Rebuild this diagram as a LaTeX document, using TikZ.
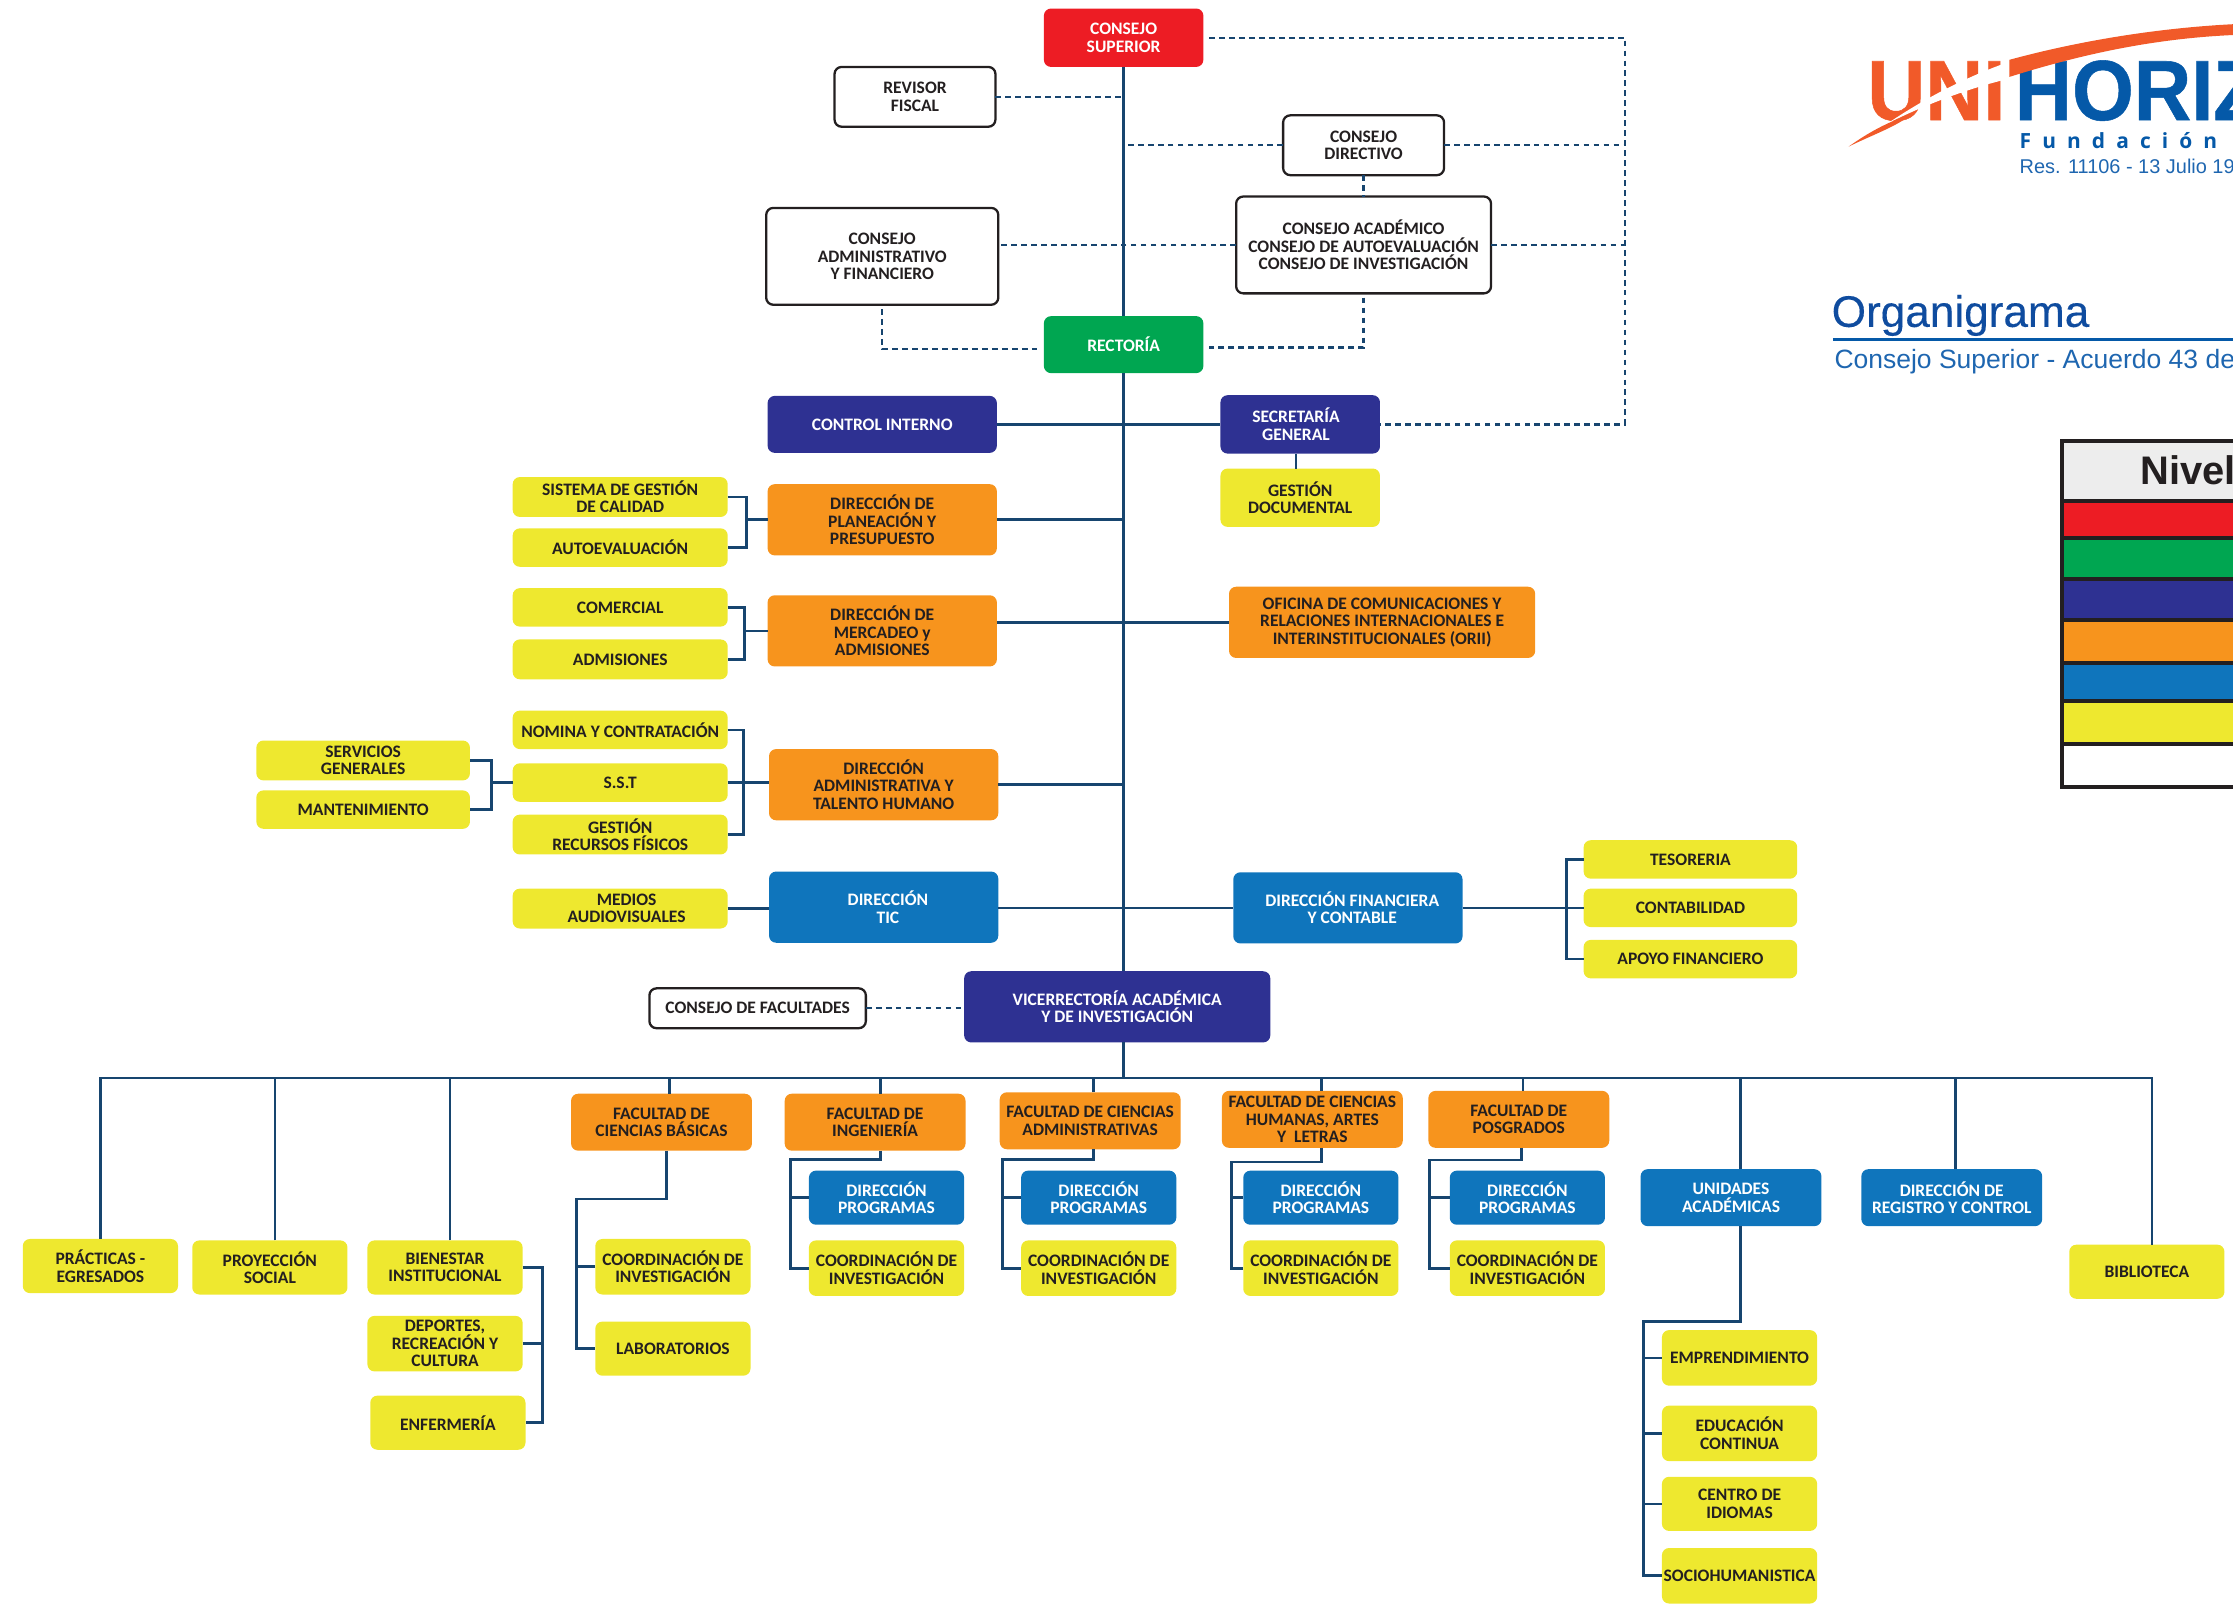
\documentclass[tikz,border=0pt]{standalone}
\usepackage{fontspec}
\setmainfont{Carlito}
\newfontfamily\logofont{Liberation Sans}
\newfontfamily\brandfont{Open Sans}
\usetikzlibrary{positioning}
\definecolor{nivelred}{HTML}{ED1C24}
\definecolor{nivelgreen}{HTML}{00A651}
\definecolor{nivelnavy}{HTML}{2E3192}
\definecolor{nivelorange}{HTML}{F7941D}
\definecolor{nivelblue}{HTML}{0F75BC}
\definecolor{nivelyellow}{HTML}{EEE82F}
\definecolor{nivelink}{HTML}{231F20}
\definecolor{relline}{HTML}{17456F}
\definecolor{logoorange}{HTML}{F15A29}
\definecolor{logoblue}{HTML}{0559A8}
\definecolor{titleblue}{HTML}{0F4C9F}
\definecolor{subblue}{HTML}{1E66B0}
\begin{document}
\begin{tikzpicture}[x=1pt, y=-1pt,
    area/.style 2 args={minimum width=#1pt, minimum height=#2pt},
    box/.style={rounded corners=5pt, inner sep=0pt, outer sep=0pt, align=center, text=nivelink, font=\fontsize{12.3}{12.2}\selectfont\bfseries},
    red-box/.style={box, fill=nivelred, text=white},
    green-box/.style={box, fill=nivelgreen, text=white},
    navy-box/.style={box, fill=nivelnavy, text=white},
    orange-box/.style={box, fill=nivelorange},
    blue-box/.style={box, fill=nivelblue, text=white},
    yellow-box/.style={box, fill=nivelyellow},
    white-box/.style={box, draw=nivelink, line width=1.6pt, fill=white},
    logo-text/.style={anchor=base west, inner sep=0pt},
    rel/.style={draw=relline, line width=1.9pt},
    rel-dash/.style={draw=relline, line width=1.6pt, dash pattern=on 4pt off 3pt},
    nivel-row/.style={draw=nivelink, line width=2.8pt}]
    \useasboundingbox (0,0) rectangle (1568,1131);

    \node[logo-text, logoorange, xscale=0.94, transform shape, font=\logofont\fontsize{60}{60}\selectfont\bfseries\addfontfeatures{FakeBold=0.6}] (logo-uni) at (1311,84.3) {UNI};
    \node[logo-text, logoblue, xscale=0.93, transform shape, font=\logofont\fontsize{60}{60}\selectfont\bfseries\addfontfeatures{FakeBold=0.6}] (logo-horiz) at (1414.5,84.3) {HORIZ};
    \fill[white] (1325,87) .. controls (1350,70) and (1380,54) .. (1412,43) -- (1412,55) .. controls (1385,61) and (1350,74) .. (1325,87) -- cycle;
    \fill[logoorange] (1411,42) .. controls (1455,30) and (1510,20) .. (1568,17) -- (1568,24.6) .. controls (1515,27) and (1465,37) .. (1411,54) -- cycle;
    \fill[logoorange] (1298,103) .. controls (1312,93) and (1325,86) .. (1342,80) .. controls (1334,88) and (1314,95) .. (1298,103) -- cycle;
    \node[logo-text, logoblue, font=\brandfont\fontsize{14.7}{15}\selectfont\bfseries\addfontfeatures{LetterSpace=53}] (logo-fundacion) at (1418,104) {Fundación};
    \node[logo-text, subblue, font=\logofont\fontsize{14}{15}\selectfont] (logo-res) at (1418,122) {Res. 11106 - 13 Julio 19};
    \node[logo-text, titleblue, font=\logofont\fontsize{31}{32}\selectfont\addfontfeatures{FakeBold=0.3}] (title) at (1286,229.5) {Organigrama};
    \draw[logoblue, line width=2pt] (1287,238.5) -- (1568,238.5);
    \node[logo-text, subblue, font=\logofont\fontsize{18.6}{19}\selectfont] (subtitle) at (1288,259) {Consejo Superior - Acuerdo 43 de};

    \draw[nivel-row, fill=black!7] (1448,310) rectangle (1600,352);
    \draw[nivel-row, fill=nivelred] (1448,352) rectangle (1600,378);
    \draw[nivel-row, fill=nivelgreen] (1448,378) rectangle (1600,406.5);
    \draw[nivel-row, fill=nivelnavy] (1448,406.5) rectangle (1600,435.5);
    \draw[nivel-row, fill=nivelorange] (1448,435.5) rectangle (1600,465.5);
    \draw[nivel-row, fill=nivelblue] (1448,465.5) rectangle (1600,492);
    \draw[nivel-row, fill=nivelyellow] (1448,492) rectangle (1600,522.5);
    \draw[nivel-row, fill=white] (1448,522.5) rectangle (1600,552.5);
    \node[logo-text, nivelink, font=\logofont\fontsize{28}{28}\selectfont\bfseries] (nivel-title) at (1503,340.5) {Nivel};

    \node[red-box, area={112}{41}] (consejo-superior) at (789,26.5) {CONSEJO\\SUPERIOR};
    \node[white-box, area={113}{42}] (revisor-fiscal) at (642.5,68) {REVISOR\\FISCAL};
    \node[white-box, area={113}{42}] (consejo-directivo) at (957.5,102) {CONSEJO\\DIRECTIVO};
    \node[white-box, area={179}{68}] (consejo-academico) at (957.5,172) {CONSEJO ACADÉMICO\\CONSEJO DE AUTOEVALUACIÓN\\CONSEJO DE INVESTIGACIÓN};
    \node[white-box, area={163}{68}] (consejo-administrativo) at (619.5,180) {CONSEJO\\ADMINISTRATIVO\\Y FINANCIERO};
    \node[green-box, area={112}{40}] (rectoria) at (789,242) {RECTORÍA};
    \node[navy-box, area={161}{40}] (control-interno) at (619.5,298) {CONTROL INTERNO};
    \node[navy-box, area={112}{41}] (secretaria-general) at (913,298) {\hspace*{-6pt}SECRETARÍA\\\hspace*{-6pt}GENERAL};
    \node[yellow-box, area={112}{41}] (gestion-documental) at (913,349.5) {GESTIÓN\\DOCUMENTAL};

    \node[orange-box, area={161}{50}] (dir-planeacion) at (619.5,365) {DIRECCIÓN DE\\PLANEACIÓN Y\\PRESUPUESTO};
    \node[yellow-box, area={151}{28}] (sistema-gestion) at (435.5,349) {SISTEMA DE GESTIÓN\\DE CALIDAD};
    \node[yellow-box, area={151}{27}] (autoevaluacion) at (435.5,384.5) {AUTOEVALUACIÓN};
    \node[orange-box, area={161}{50}] (dir-mercadeo) at (619.5,443) {DIRECCIÓN DE\\MERCADEO y\\ADMISIONES};
    \node[yellow-box, area={151}{27}] (comercial) at (435.5,426.5) {COMERCIAL};
    \node[yellow-box, area={151}{28}] (admisiones) at (435.5,463) {ADMISIONES};
    \node[orange-box, area={215}{50}] (oficina-comunicaciones) at (970.5,437) {OFICINA DE COMUNICACIONES Y\\RELACIONES INTERNACIONALES E\\INTERINSTITUCIONALES (ORII)};
    \node[orange-box, area={161}{50}] (dir-administrativa) at (620.5,551) {DIRECCIÓN\\ADMINISTRATIVA Y\\TALENTO HUMANO};
    \node[yellow-box, area={151}{27}] (nomina) at (435.5,512.5) {NOMINA Y CONTRATACIÓN};
    \node[yellow-box, area={151}{27}] (sst) at (435.5,549.5) {S.S.T};
    \node[yellow-box, area={151}{28}] (gestion-recursos) at (435.5,586) {GESTIÓN\\RECURSOS FÍSICOS};
    \node[yellow-box, area={150}{28}] (servicios-generales) at (255,534) {SERVICIOS\\GENERALES};
    \node[yellow-box, area={150}{27}] (mantenimiento) at (255,568.5) {MANTENIMIENTO};
    \node[blue-box, area={161}{50}] (dir-tic) at (620.5,637) {\hspace*{6pt}DIRECCIÓN\\\hspace*{6pt}TIC};
    \node[yellow-box, area={151}{28}] (medios) at (435.5,638) {\hspace*{9pt}MEDIOS\\\hspace*{9pt}AUDIOVISUALES};
    \node[blue-box, area={161}{50}] (dir-financiera) at (946.5,637.5) {\hspace*{6pt}DIRECCIÓN FINANCIERA\\\hspace*{6pt}Y CONTABLE};
    \node[yellow-box, area={150}{27}] (tesoreria) at (1187,603.5) {TESORERIA};
    \node[yellow-box, area={150}{27}] (contabilidad) at (1187,637.5) {CONTABILIDAD};
    \node[yellow-box, area={150}{27}] (apoyo) at (1187,673.5) {APOYO FINANCIERO};
    \node[navy-box, area={215}{50}] (vicerrectoria) at (784.5,707) {VICERRECTORÍA ACADÉMICA\\Y DE INVESTIGACIÓN};
    \node[white-box, area={152}{28}] (consejo-facultades) at (532,708) {CONSEJO DE FACULTADES};

    \node[yellow-box, area={109}{38}] (practicas) at (70.5,889) {PRÁCTICAS -\\EGRESADOS};
    \node[yellow-box, area={109}{38}] (proyeccion) at (189.5,890) {PROYECCIÓN\\SOCIAL};
    \node[yellow-box, area={109}{38}] (bienestar) at (312.5,890) {BIENESTAR\\INSTITUCIONAL};
    \node[yellow-box, area={109}{39}] (deportes) at (312.5,943.5) {DEPORTES,\\RECREACIÓN Y\\CULTURA};
    \node[yellow-box, area={109}{38}] (enfermeria) at (314.5,999) {ENFERMERÍA};

    \node[orange-box, area={127}{40}] (fac-basicas) at (464.5,788) {FACULTAD DE\\CIENCIAS BÁSICAS};
    \node[yellow-box, area={109}{39}] (coord-basicas) at (472.5,889.5) {COORDINACIÓN DE\\INVESTIGACIÓN};
    \node[yellow-box, area={109}{38}] (laboratorios) at (472.5,947) {LABORATORIOS};
    \node[orange-box, area={127}{40}] (fac-ingenieria) at (614.5,788) {FACULTAD DE\\INGENIERÍA};
    \node[blue-box, area={109}{38}] (prog-ingenieria) at (622.5,841) {DIRECCIÓN\\PROGRAMAS};
    \node[yellow-box, area={109}{39}] (coord-ingenieria) at (622.5,890.5) {COORDINACIÓN DE\\INVESTIGACIÓN};
    \node[orange-box, area={127}{40}] (fac-administrativas) at (765.5,787) {FACULTAD DE CIENCIAS\\ADMINISTRATIVAS};
    \node[blue-box, area={109}{38}] (prog-administrativas) at (771.5,841) {DIRECCIÓN\\PROGRAMAS};
    \node[yellow-box, area={109}{39}] (coord-administrativas) at (771.5,890.5) {COORDINACIÓN DE\\INVESTIGACIÓN};
    \node[orange-box, area={127}{40}] (fac-humanas) at (921.5,786) {FACULTAD DE CIENCIAS\\HUMANAS, ARTES\\Y\ \ LETRAS};
    \node[blue-box, area={109}{38}] (prog-humanas) at (927.5,841) {DIRECCIÓN\\PROGRAMAS};
    \node[yellow-box, area={109}{39}] (coord-humanas) at (927.5,890.5) {COORDINACIÓN DE\\INVESTIGACIÓN};
    \node[orange-box, area={127}{40}] (fac-posgrados) at (1066.5,786) {FACULTAD DE\\POSGRADOS};
    \node[blue-box, area={109}{38}] (prog-posgrados) at (1072.5,841) {DIRECCIÓN\\PROGRAMAS};
    \node[yellow-box, area={109}{39}] (coord-posgrados) at (1072.5,890.5) {COORDINACIÓN DE\\INVESTIGACIÓN};

    \node[blue-box, area={127}{40}] (unidades) at (1215.5,841) {UNIDADES\\ACADÉMICAS};
    \node[yellow-box, area={109}{39}] (emprendimiento) at (1221.5,953.5) {EMPRENDIMIENTO};
    \node[yellow-box, area={109}{39}] (educacion) at (1221.5,1006.5) {EDUCACIÓN\\CONTINUA};
    \node[yellow-box, area={109}{38}] (idiomas) at (1221.5,1056) {CENTRO DE\\IDIOMAS};
    \node[yellow-box, area={109}{39}] (sociohumanistica) at (1221.5,1106.5) {SOCIOHUMANISTICA};
    \node[blue-box, area={127}{40}] (registro) at (1370.5,841) {DIRECCIÓN DE\\REGISTRO Y CONTROL};
    \node[yellow-box, area={109}{38}] (biblioteca) at (1507.5,893) {BIBLIOTECA};

    \coordinate (dash-top) at (1141,26.5);
    \coordinate (dash-bottom) at (1141,298);
    \coordinate (bus) at (789,757);
    \coordinate (planeacion-brace) at (524,365);
    \coordinate (mercadeo-brace) at (523,443);
    \coordinate (administrativa-brace) at (522,549.5);
    \coordinate (sst-brace) at (345,549.5);
    \coordinate (financiera-brace) at (1100,637.5);
    \coordinate (bienestar-brace) at (381,943.5);
    \coordinate (basicas-elbow) at (405,842);
    \coordinate (ingenieria-elbow) at (555,814);
    \coordinate (administrativas-elbow) at (704,814);
    \coordinate (humanas-elbow) at (864.5,816);
    \coordinate (posgrados-elbow) at (1004,814.5);
    \coordinate (unidades-elbow) at (1154,928);

    \draw[rel] (consejo-superior.south) -- (rectoria.north);
    \draw[rel] (rectoria.south) -- (rectoria.south |- vicerrectoria.north);
    \draw[rel] (rectoria.south |- vicerrectoria.south) -- (bus);
    \draw[rel] (control-interno.east) -- (secretaria-general.west);
    \draw[rel] ([xshift=-3pt] secretaria-general.south) -- ([xshift=-3pt] gestion-documental.north);
    \draw[rel] (dir-planeacion.east) -- (dir-planeacion.east -| rectoria.south);
    \draw[rel] (dir-mercadeo.east |- oficina-comunicaciones.west) -- (oficina-comunicaciones.west);
    \draw[rel] (dir-administrativa.east) -- (dir-administrativa.east -| rectoria.south);
    \draw[rel] (dir-tic.east |- dir-financiera.west) -- (dir-financiera.west);

    \draw[rel] (sistema-gestion.east) -| (planeacion-brace) |- (autoevaluacion.east);
    \draw[rel] (planeacion-brace) -- (dir-planeacion.west);
    \draw[rel] (comercial.east) -| (mercadeo-brace) |- (admisiones.east);
    \draw[rel] (mercadeo-brace) -- (dir-mercadeo.west);
    \draw[rel] (nomina.east) -| (administrativa-brace) |- (gestion-recursos.east);
    \draw[rel] (sst.east) -- (sst.east -| dir-administrativa.west);
    \draw[rel] (servicios-generales.east) -| (sst-brace) |- (mantenimiento.east);
    \draw[rel] (sst-brace) -- (sst.west);
    \draw[rel] (medios.east) -- (medios.east -| dir-tic.west);
    \draw[rel] (dir-financiera.east) -- (contabilidad.west);
    \draw[rel] (tesoreria.west) -| (financiera-brace) |- (apoyo.west);

    \draw[rel] (practicas.north) |- (bus);
    \draw[rel] ([xshift=3.5pt] proyeccion.north) |- (bus);
    \draw[rel] ([xshift=3.5pt] bienestar.north) |- (bus);
    \draw[rel] ([xshift=5.5pt] fac-basicas.north) |- (bus);
    \draw[rel] ([xshift=4pt] fac-ingenieria.north) |- (bus);
    \draw[rel] ([xshift=2.5pt] fac-administrativas.north) |- (bus);
    \draw[rel] ([xshift=6.5pt] fac-humanas.north) |- (bus);
    \draw[rel] ([xshift=3pt] fac-posgrados.north) |- (bus);
    \draw[rel] ([xshift=6.5pt] unidades.north) |- (bus);
    \draw[rel] ([xshift=2.5pt] registro.north) |- (bus);
    \draw[rel] ([xshift=3.5pt] biblioteca.north) |- (bus);

    \draw[rel] (bienestar.east) -| (bienestar-brace) |- (enfermeria.east);
    \draw[rel] (deportes.east) -- (bienestar-brace);
    \draw[rel] ([xshift=3.5pt] fac-basicas.south) |- (basicas-elbow) |- (laboratorios.west);
    \draw[rel] (coord-basicas.west) -- (coord-basicas.west -| basicas-elbow);
    \draw[rel] ([xshift=4pt] fac-ingenieria.south) |- (ingenieria-elbow) |- (coord-ingenieria.west);
    \draw[rel] (prog-ingenieria.west) -- (prog-ingenieria.west -| ingenieria-elbow);
    \draw[rel] ([xshift=2.5pt] fac-administrativas.south) |- (administrativas-elbow) |- (coord-administrativas.west);
    \draw[rel] (prog-administrativas.west) -- (prog-administrativas.west -| administrativas-elbow);
    \draw[rel] ([xshift=6.5pt] fac-humanas.south) |- (humanas-elbow) |- (coord-humanas.west);
    \draw[rel] (prog-humanas.west) -- (prog-humanas.west -| humanas-elbow);
    \draw[rel] ([xshift=2pt] fac-posgrados.south) |- (posgrados-elbow) |- (coord-posgrados.west);
    \draw[rel] (prog-posgrados.west) -- (prog-posgrados.west -| posgrados-elbow);
    \draw[rel] ([xshift=6.5pt] unidades.south) |- (unidades-elbow) |- (sociohumanistica.west);
    \draw[rel] (emprendimiento.west) -- (emprendimiento.west -| unidades-elbow);
    \draw[rel] (educacion.west) -- (educacion.west -| unidades-elbow);
    \draw[rel] (idiomas.west) -- (idiomas.west -| unidades-elbow);

    \draw[rel-dash, shorten <=4pt] (consejo-superior.east) -- (dash-top) -- (dash-bottom) -- (secretaria-general.east);
    \draw[rel-dash] (revisor-fiscal.east) -- (revisor-fiscal.east -| consejo-superior.south);
    \draw[rel-dash] (consejo-directivo.west) -- (consejo-directivo.west -| consejo-superior.south);
    \draw[rel-dash] (consejo-directivo.east) -- (consejo-directivo.east -| dash-top);
    \draw[rel-dash] (consejo-directivo.south) -- (consejo-academico.north);
    \draw[rel-dash] (consejo-academico.east) -- (consejo-academico.east -| dash-top);
    \draw[rel-dash] (consejo-academico.west) -- (consejo-academico.west -| consejo-administrativo.east);
    \draw[rel-dash, shorten <=3pt, shorten >=4pt] (consejo-administrativo.south) |- ([yshift=-3pt] rectoria.west);
    \draw[rel-dash, shorten <=3pt, shorten >=4pt] (consejo-academico.south) |- ([yshift=-2pt] rectoria.east);
    \draw[rel-dash] (consejo-facultades.east) -- (consejo-facultades.east -| vicerrectoria.west);
\end{tikzpicture}
\end{document}
